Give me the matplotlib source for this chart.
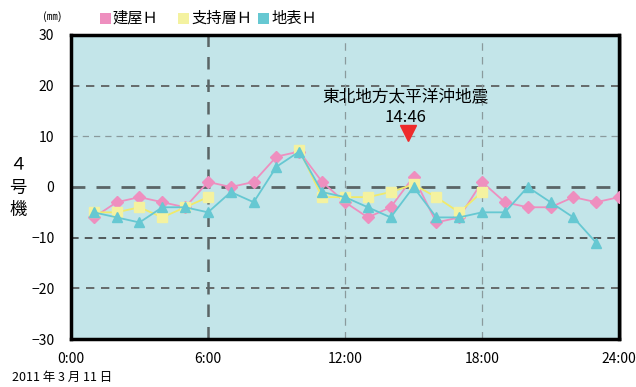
import numpy as np
import matplotlib
matplotlib.use("Agg")
from matplotlib import pyplot as plt
from matplotlib.patches import Rectangle

plt.rcParams['font.family'] = ['Noto Sans CJK JP', 'DejaVu Sans']

hours = list(range(1, 25))
nan = np.nan
building = [-6, -3, -2, -3, -4, 1, 0, 1, 6, 7, 1, -3, -6, -4, 2, -7, -6, 1, -3, -4, -4, -2, -3, -2]
support = [-5, -5, -4, -6, -4, -2, nan, nan, nan, 7.3, -2, -2, -2, -1, 0.5, -2, -5, -1,
           nan, nan, nan, nan, nan, nan]
ground = [-5, -6, -7, -4, -4, -5, -1, -3, 4, 7, -1, -2, -4, -6, 0, -6, -6, -5, -5, 0, -3, -6, -11, nan]
names = ['建屋Ｈ', '支持層Ｈ', '地表Ｈ']
quake_time = 14 + 46 / 60

c_pink = '#EE8FBF'
c_yel_line = '#F0EA6A'
c_yel = '#F4F2A0'
c_cyan = '#66C8D2'

fig = plt.figure(figsize=(6.36, 3.87), dpi=100)
ax = fig.add_axes([0.1116, 0.124, 0.8617, 0.7856])
ax.set_facecolor('#C3E5E9')

# shadow behind the frame
fig.patches.append(Rectangle((0.1116 + 0.004, 0.124 - 0.006), 0.8617, 0.7856,
                             transform=fig.transFigure, facecolor='#B0B0B0',
                             edgecolor='none', zorder=-1))

# grid
for y, col, lw in [(20, '#555555', 1.2), (10, '#8A9A9C', 0.9), (0, '#5A6566', 2.0),
                   (-10, '#333333', 1.1), (-20, '#555555', 1.2)]:
    ax.axhline(y, color=col, lw=lw, ls=(0, (5, 4)), zorder=1)
ax.axvline(6, color='#5A6566', lw=1.8, ls=(0, (5, 4)), zorder=1)
for x in (12, 18):
    ax.axvline(x, color='#8A9A9C', lw=0.9, ls=(0, (6, 5)), zorder=1)

ax.plot(hours, building, color=c_pink, lw=1.3, marker='D', ms=6, mfc=c_pink, mec=c_pink, zorder=3)
ax.plot(hours, support, color=c_yel_line, lw=1.3, marker='s', ms=7, mfc=c_yel, mec=c_yel, zorder=3)
ax.plot(hours, ground, color=c_cyan, lw=1.3, marker='^', ms=7.5, mfc=c_cyan, mec=c_cyan, zorder=4)

ax.plot([quake_time], [10.6], marker='v', ms=11, color='#EE2B2B', zorder=5)
ax.text(quake_time - 0.1, 17.9, '東北地方太平洋沖地震', ha='center', va='center', fontsize=12, zorder=5)
ax.text(quake_time - 0.1, 13.8, '14:46', ha='center', va='center', fontsize=12, zorder=5)

ax.set_xlim(0, 24)
ax.set_ylim(-30, 30)
ax.set_xticks([0, 6, 12, 18, 24])
ax.set_xticklabels(['0:00', '6:00', '12:00', '18:00', '24:00'], fontsize=10)
ax.set_yticks([30, 20, 10, 0, -10, -20, -30])
ax.set_yticklabels(['30', '20', '10', '0', '−10', '−20', '−30'], fontsize=10)
ax.tick_params(axis='both', length=0)
ax.tick_params(axis='x', pad=9)
ax.tick_params(axis='y', pad=12)
for s in ax.spines.values():
    s.set_linewidth(2.5)
    s.set_color('black')

# legend
fig.text(52 / 636, 1 - 17 / 387, '(㎜)', fontsize=8, ha='center', va='center')
for (x0, name, col) in [(100, names[0], c_pink), (178, names[1], c_yel), (258, names[2], c_cyan)]:
    fig.patches.append(Rectangle((x0 / 636, 1 - 24 / 387), 11 / 636, 11 / 387,
                                 transform=fig.transFigure, facecolor=col, edgecolor='none'))
    fig.text((x0 + 13) / 636, 1 - 18 / 387, name, fontsize=11, ha='left', va='center')

for txt, yy in [('４', 165), ('号', 188), ('機', 210)]:
    fig.text(18 / 636, 1 - yy / 387, txt, fontsize=12.5, ha='center', va='center')

fig.text(12 / 636, 1 - 377 / 387, '2011 年 3 月 11 日', fontsize=9, ha='left', va='center')

fig.savefig('out.png', dpi=100)
